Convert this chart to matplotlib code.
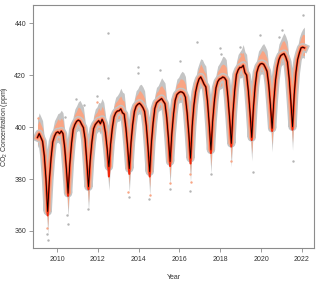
import numpy as np
import matplotlib
matplotlib.use("Agg")
import matplotlib.pyplot as plt

plt.rcParams['font.family'] = ['Liberation Sans', 'DejaVu Sans']
plt.rcParams['mathtext.default'] = 'regular'

# monthly mean CO2 (ppm), Jan 2009 .. Feb 2022
co2 = [
    396.0, 397.5, 396.0, 394.5, 389.0, 380.0, 367.5, 379.7, 388.2, 394.3, 396.5, 397.8,  # 2009
    398.2, 397.5, 398.5, 397.5, 392.1, 383.9, 374.5, 385.7, 393.5, 399.1, 401.0, 402.2,  # 2010
    402.7, 402.3, 401.0, 399.8, 395.4, 386.8, 377.0, 387.2, 394.3, 399.4, 401.0, 401.8,  # 2011
    402.5, 401.3, 403.0, 401.5, 397.7, 391.6, 384.7, 393.4, 399.5, 403.9, 405.5, 406.2,  # 2012
    406.3, 407.0, 405.5, 405.0, 399.7, 392.4, 384.0, 394.0, 401.0, 406.0, 408.0, 408.8,  # 2013
    409.2, 408.5, 407.5, 406.0, 400.6, 392.3, 382.8, 393.9, 401.6, 407.2, 409.3, 410.0,  # 2014
    410.5, 411.0, 410.0, 409.0, 403.8, 395.8, 386.7, 397.4, 404.9, 410.3, 412.5, 413.2,  # 2015
    413.6, 413.5, 413.0, 411.5, 405.6, 397.4, 388.0, 400.4, 408.5, 413.5, 416.5, 418.5,  # 2016
    419.3, 418.0, 416.5, 415.5, 409.8, 401.1, 391.2, 402.1, 409.8, 415.2, 417.5, 418.5,  # 2017
    418.8, 419.3, 419.0, 418.0, 411.5, 403.2, 393.7, 405.7, 414.2, 420.2, 422.0, 423.0,  # 2018
    423.0, 423.8, 421.0, 420.0, 414.0, 405.6, 396.0, 407.4, 415.7, 421.1, 423.3, 424.3,  # 2019
    424.5, 424.2, 423.0, 421.5, 416.4, 408.5, 399.5, 410.0, 418.0, 423.0, 426.0, 427.5,  # 2020
    428.0, 428.3, 427.0, 425.0, 418.8, 410.0, 400.1, 412.5, 421.0, 426.0, 428.5, 430.5,  # 2021
    430.8, 430.5,                                                                        # 2022
]
# smoothed (red) curve goes a bit deeper in July
red_july = [366.0, 373.5, 376.0, 381.0, 382.0, 381.0, 385.0, 386.0, 390.0, 392.5, 395.0, 398.5, 399.0]

# typical spread of the individual measurements by calendar month (ppm)
grey_up = [7, 8, 8, 8, 7, 6, 6, 5, 5, 5, 6, 6]
grey_dn = [4, 4, 4, 5, 6, 7, 9, 7, 5, 4, 4, 4]
orng_up = [5, 5, 5, 5, 4, 4, 3, 3, 3, 4, 4, 4]
orng_dn = [3, 3, 3, 4, 4, 5, 6, 4, 4, 3, 3, 3]

# isolated measurements away from the main cloud
out_x = [2012.51, 2012.51, 2013.95, 2013.96, 2016.85, 2017.99, 2018.97, 2019.95, 2020.90, 2022.07,
         2009.55, 2010.55, 2011.50, 2015.54, 2016.52, 2017.53, 2019.59, 2021.58, 2010.40, 2011.30,
         2009.52, 2010.50, 2014.50, 2013.52, 2015.05, 2016.05, 2018.05, 2011.95, 2010.95, 2021.05]
out_y = [436.4, 419.1, 423.2, 421.0, 432.8, 430.3, 430.9, 435.4, 434.7, 443.0,
         356.5, 362.6, 368.3, 376.0, 375.4, 381.8, 382.7, 386.9, 404.0, 408.5,
         359.0, 366.0, 372.5, 373.0, 422.0, 425.5, 428.0, 412.0, 411.0, 437.5]
out_o_x = [2009.05, 2009.50, 2014.55, 2015.55, 2016.55, 2016.53, 2018.55, 2013.50, 2011.98, 2019.02]
out_o_y = [403.5, 361.0, 374.0, 378.5, 379.0, 382.0, 387.0, 375.0, 409.5, 428.0]

co2 = np.array(co2)
t = 2009 + (np.arange(len(co2)) + 0.5) / 12
mon = np.arange(len(co2)) % 12
red = co2.copy()
red[6::12] = red_july

fig = plt.figure(figsize=(3.2, 2.82), dpi=100)
ax = fig.add_axes([0.103, 0.121, 0.878, 0.861])

g_up = np.array(grey_up)[mon]
g_dn = np.array(grey_dn)[mon]
o_up = np.array(orng_up)[mon]
o_dn = np.array(orng_dn)[mon]

grey = '#C4C4C4'
salmon = '#F9A584'
ax.fill_between(t, co2 - g_dn, co2 + g_up, color=grey, lw=0)
ax.plot(t, co2, color=grey, lw=6, solid_joinstyle='round')
ax.scatter(out_x, out_y, s=3, color='#B4B4B4', lw=0)
ax.fill_between(t, co2 - o_dn, co2 + o_up, color=salmon, lw=0)
ax.plot(t, co2, color=salmon, lw=3.8, solid_joinstyle='round')
ax.scatter(out_o_x, out_o_y, s=3, color=salmon, lw=0)

ax.plot(t, red, color='#F0280C', lw=1.5)
ax.plot(t, co2, color='black', lw=0.6)

ax.set_xlim(2008.82, 2022.59)
ax.set_ylim(353.5, 447)
ax.set_xticks(range(2010, 2023, 2))
ax.set_yticks(range(360, 441, 20))
for s in ax.spines.values():
    s.set_color('#8C8C8C')
    s.set_linewidth(0.8)
ax.tick_params(colors='#8C8C8C', labelcolor='#333333', labelsize=5, length=3, width=0.6)
ax.tick_params(axis='x', pad=3)
ax.tick_params(axis='y', pad=2)
ax.set_xlabel('Year', fontsize=5, color='#333333', labelpad=8)
ax.set_ylabel('CO$_2$ Concentration (ppm)', fontsize=5, color='#333333', labelpad=3)
ax.yaxis.set_label_coords(-0.08, 0.5)

fig.savefig('out.png', dpi=100)
